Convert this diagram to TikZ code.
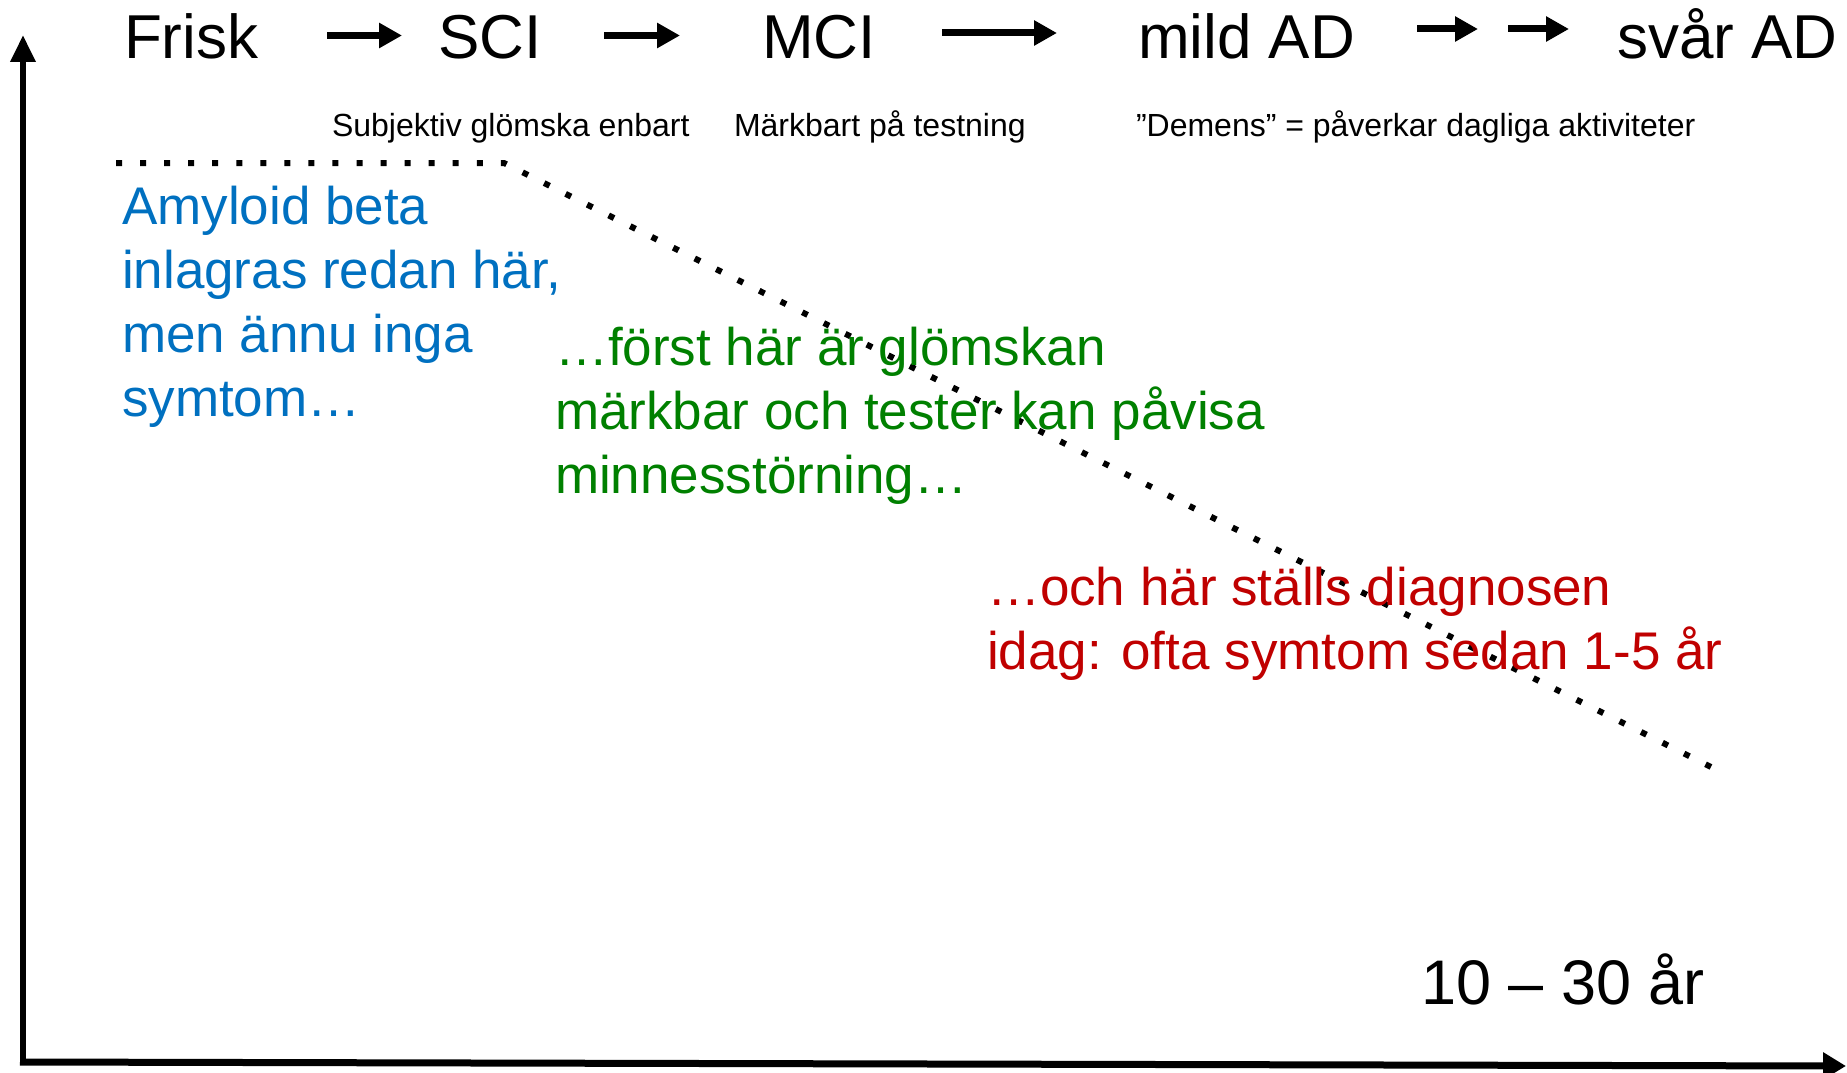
\documentclass[tikz,border=0pt]{standalone}
\usepackage{fontspec}
\setmainfont{Liberation Sans}
\usetikzlibrary{arrows.meta}
\definecolor{txtblue}{RGB}{0,112,192}
\definecolor{txtgreen}{RGB}{0,128,0}
\definecolor{txtred}{RGB}{192,0,0}
\tikzset{
  lbl/.style={inner sep=0pt, outer sep=0pt, anchor=base west},
  stage/.style={lbl, font=\fontsize{62}{74}\selectfont},
  subt/.style={lbl, font=\fontsize{32}{38}\selectfont},
  note/.style={lbl, align=left, font=\fontsize{53}{64}\selectfont},
  blockarrow/.style={line width=7pt, -{Triangle[length=23pt,width=24pt]}},
  axisline/.style={line width=6.5pt},
  dotline/.style={line width=6pt, dash pattern=on 6pt off 18.05pt}
}
\begin{document}
\begin{tikzpicture}[x=1pt,y=-1pt]
\useasboundingbox (0,0) rectangle (1847,1073);
% stages
\node[stage] (frisk) at (124,59) {Frisk};
\node[stage] (sci)   at (438,59) {SCI};
\node[stage] (mci)   at (762,59) {MCI};
\node[stage] (mild)  at (1138,59) {mild AD};
\node[stage] (svar)  at (1617,59) {svår AD};
% arrow end points
\coordinate (a1s) at (327,35.5);  \coordinate (a1e) at (402,35.5);
\coordinate (a2s) at (604,35.5);  \coordinate (a2e) at (680,35.5);
\coordinate (a3s) at (942,33);    \coordinate (a3e) at (1057,33);
\coordinate (a4s) at (1417,29);   \coordinate (a4e) at (1478,29);
\coordinate (a5s) at (1508,29);   \coordinate (a5e) at (1569,29);
\draw[blockarrow] (a1s) -- (a1e);
\draw[blockarrow] (a2s) -- (a2e);
\draw[blockarrow] (a3s) -- (a3e);
\draw[blockarrow] (a4s) -- (a4e);
\draw[blockarrow] (a5s) -- (a5e);
% subtitles
\node[subt] (sub1) at (332,136) {Subjektiv glömska enbart};
\node[subt] (sub2) at (734,136) {Märkbart på testning};
\node[subt] (sub3) at (1136,136) {”Demens” = påverkar dagliga aktiviteter};
% dotted line
\coordinate (d0) at (116,163);
\coordinate (d1) at (504,163);
\coordinate (d2) at (1711,767);
\draw[dotline] (d0) -- (d1) -- (d2);
% notes (base anchor = baseline of last line)
\node[note, text=txtblue] (blue) at (122,416) {Amyloid beta\\inlagras redan här,\\men ännu inga\\symtom…};
\node[note, text=txtgreen] (green) at (555,493) {…först här är glömskan\\märkbar och tester kan påvisa\\minnesstörning…};
\node[note, text=txtred] (red) at (987,669) {…och här ställs diagnosen\\idag: ofta symtom sedan 1-5 år};
\node[lbl, font=\fontsize{63}{75}\selectfont] (years) at (1421,1004) {10 – 30 år};
% axes
\coordinate (origin) at (23,1062);
\coordinate (ytip) at (23,35);
\coordinate (xtip) at (1846,1066);
\draw[axisline, -{Triangle[length=27pt,width=24pt]}] ([yshift=-3pt]origin) -- (ytip);
\draw[axisline, line width=7pt, -{Triangle[length=23pt,width=26pt]}] ([xshift=-3pt]origin) -- (xtip);
\end{tikzpicture}
\end{document}
